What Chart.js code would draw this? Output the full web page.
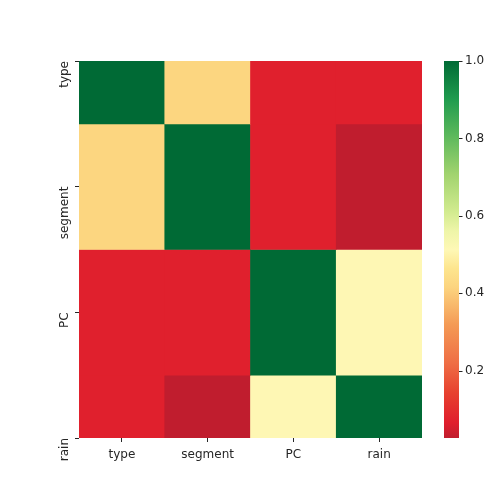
<!DOCTYPE html>
<html>
<head>
<meta charset="utf-8">
<script src="https://cdn.jsdelivr.net/npm/chart.js@4"></script>
<style>
  body { margin: 0; background: #fff; }
  #heatmap { display: block; }
</style>
</head>
<body>
<canvas id="heatmap" width="495" height="490"></canvas>
<script>
// Correlation matrix (rows top to bottom, columns left to right)
const labels = ['type', 'segment', 'PC', 'rain'];
const typeCorr = [1.0, 0.42, 0.07, 0.07];
const segmentCorr = [0.42, 1.0, 0.07, 0.026];
const pcCorr = [0.07, 0.07, 1.0, 0.51];
const rainCorr = [0.07, 0.026, 0.51, 1.0];
const colorbarTicks = [0.2, 0.4, 0.6, 0.8, 1.0];

const rows = [typeCorr, segmentCorr, pcCorr, rainCorr];
const vmin = Math.min(...rows.flat());
const vmax = Math.max(...rows.flat());

// RdYlGn-like colormap, as it looks in the reference
const colorStops = [
    [0.00, '#c01d2e'], [0.04, '#e01e2d'], [0.12, '#e7412f'], [0.20, '#ef6e45'],
    [0.30, '#f49a55'], [0.40, '#fcd47f'], [0.45, '#fde58e'], [0.50, '#fef8b6'],
    [0.55, '#eef5a8'], [0.60, '#d2eb8f'], [0.70, '#a1d36e'], [0.80, '#5db95c'],
    [0.90, '#1f9b4e'], [1.00, '#006a35']
];

function hexToRgb(h) {
    return [parseInt(h.slice(1, 3), 16), parseInt(h.slice(3, 5), 16), parseInt(h.slice(5, 7), 16)];
}

function colorFor(v) {
    const t = Math.max(0, Math.min(1, (v - vmin) / (vmax - vmin)));
    for (let i = 1; i < colorStops.length; i++) {
        const [t1, c1] = colorStops[i];
        if (t <= t1) {
            const [t0, c0] = colorStops[i - 1];
            const f = (t - t0) / (t1 - t0);
            const a = hexToRgb(c0), b = hexToRgb(c1);
            const rgb = a.map((x, k) => Math.round(x + (b[k] - x) * f));
            return 'rgb(' + rgb.join(',') + ')';
        }
    }
    return colorStops[colorStops.length - 1][1];
}

const textColor = '#262626';
const font = { family: 'DejaVu Sans', size: 12 };

const colorbarPlugin = {
    id: 'colorbar',
    afterDraw(chart) {
        const s = chart.scales.cb;
        const ctx = chart.ctx;
        const top = s.getPixelForValue(vmax);
        const bottom = s.getPixelForValue(vmin);
        const x = s.left + 22, w = 15;
        const g = ctx.createLinearGradient(0, bottom, 0, top);
        colorStops.forEach(([t, c]) => g.addColorStop(t, c));
        ctx.save();
        ctx.fillStyle = g;
        ctx.fillRect(x, top, w, bottom - top);
        ctx.strokeStyle = textColor;
        ctx.lineWidth = 1;
        s.ticks.forEach(tick => {
            const y = Math.round(s.getPixelForValue(tick.value)) + 0.5;
            ctx.beginPath();
            ctx.moveTo(x + w, y);
            ctx.lineTo(x + w + 3.5, y);
            ctx.stroke();
        });
        ctx.restore();
    }
};

const ctx = document.getElementById('heatmap').getContext('2d');
new Chart(ctx, {
    type: 'bar',
    data: {
        labels: labels,
        datasets: rows.map((row, i) => ({
            label: labels[i],
            data: labels.map(() => [i, i + 1]),
            backgroundColor: row.map(colorFor),
            borderWidth: 0,
            grouped: false,
            barPercentage: 1,
            categoryPercentage: 1,
            yAxisID: 'y'
        }))
    },
    options: {
        responsive: false,
        animation: false,
        layout: { padding: { top: 61, left: 0, right: 0, bottom: 0 } },
        plugins: {
            legend: { display: false },
            tooltip: { enabled: false }
        },
        scales: {
            x: {
                type: 'category',
                offset: true,
                border: { display: false },
                grid: { offset: false, drawOnChartArea: false, tickLength: 4, color: textColor },
                ticks: { color: textColor, font: font, padding: 6, maxRotation: 0 },
                afterFit(scale) { scale.height = 52; }
            },
            y: {
                type: 'linear',
                position: 'left',
                reverse: true,
                min: 0.5,
                max: 3.5,
                border: { display: false },
                grid: { drawOnChartArea: false, tickLength: 4, color: textColor },
                afterBuildTicks(scale) { scale.ticks = labels.map((_, i) => ({ value: i + 0.5 })); },
                ticks: {
                    color: textColor,
                    font: font,
                    padding: 10,
                    minRotation: 90,
                    maxRotation: 90,
                    autoSkip: false,
                    callback: v => labels[Math.round(v - 0.5)]
                },
                afterFit(scale) { scale.width = 79; }
            },
            cb: {
                type: 'linear',
                position: 'right',
                min: vmin,
                max: vmax,
                border: { display: false },
                grid: { display: false, drawTicks: false },
                afterBuildTicks(scale) { scale.ticks = colorbarTicks.map(v => ({ value: v })); },
                ticks: {
                    color: textColor,
                    font: font,
                    padding: 43,
                    autoSkip: false,
                    callback: v => v.toFixed(1)
                },
                afterFit(scale) { scale.width = 73; }
            }
        }
    },
    plugins: [colorbarPlugin]
});
</script>
</body>
</html>
